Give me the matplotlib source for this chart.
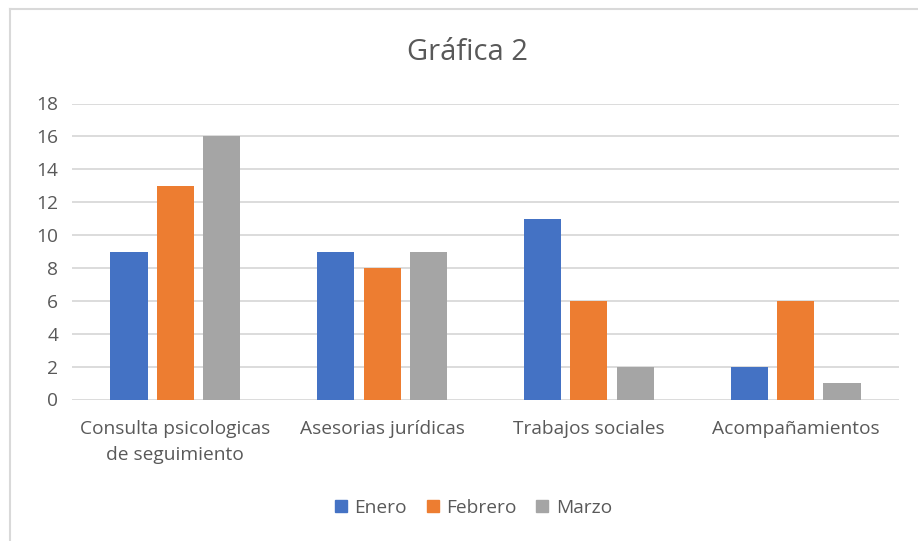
import matplotlib
matplotlib.use("Agg")
import matplotlib.pyplot as plt
import numpy as np
from matplotlib.lines import Line2D

plt.rcParams['font.family'] = ['Open Sans', 'DejaVu Sans']

categories = ["Consulta psicologicas\nde seguimiento", "Asesorias jurídicas", "Trabajos sociales", "Acompañamientos"]
series_names = ["Enero", "Febrero", "Marzo"]
enero = [9, 9, 11, 2]
febrero = [13, 8, 6, 6]
marzo = [16, 9, 2, 1]
colors = ["#4472C4", "#ED7D31", "#A5A5A5"]
yticks = [0, 2, 4, 6, 8, 10, 12, 14, 16, 18]

text_color = "#595959"
grid_color = "#D9D9D9"

fig = plt.figure(figsize=(9.18, 5.41), dpi=100)
ax = fig.add_axes([72 / 918, 1 - 399.5 / 541, (899 - 72) / 918, (399.5 - 103.5) / 541])

x = np.arange(len(categories))
bar_w = 0.18
step = 0.224
for i, (vals, name) in enumerate(zip([enero, febrero, marzo], series_names)):
    ax.bar(x + (i - 1) * step, vals, width=bar_w, color=colors[i], label=name, zorder=3)

ax.set_xlim(-0.5, len(categories) - 0.5)
ax.set_ylim(0, 18)
ax.set_yticks(yticks)
ax.set_xticks(x)
ax.set_xticklabels(categories, fontsize=13.8, color=text_color, linespacing=1.55)
ax.tick_params(axis='y', labelsize=13.8, labelcolor=text_color, length=0, pad=10)
ax.tick_params(axis='x', length=0, pad=15)
ax.grid(axis='y', color=grid_color, linewidth=1.3, zorder=0)
for s in ax.spines.values():
    s.set_visible(False)

fig.text(468 / 918, 1 - 52 / 541, "Gráfica 2", ha='center', va='center', fontsize=21, color=text_color)

handles = [Line2D([], [], marker='s', linestyle='none', markersize=8, color=c) for c in colors]
fig.legend(handles, series_names, loc='center', bbox_to_anchor=(473 / 918, 1 - 508 / 541), ncol=3,
           frameon=False, fontsize=13.8, labelcolor=text_color, handlelength=0.7,
           handletextpad=0.35, columnspacing=1.0)

# chart frame
fig.add_artist(Line2D([10 / 918, 1], [1 - 9 / 541, 1 - 9 / 541], color="#D9D9D9", linewidth=1.5, transform=fig.transFigure))
fig.add_artist(Line2D([10 / 918, 10 / 918], [0, 1 - 9 / 541], color="#D9D9D9", linewidth=1.5, transform=fig.transFigure))

fig.savefig("out.png", dpi=100, facecolor="white")
